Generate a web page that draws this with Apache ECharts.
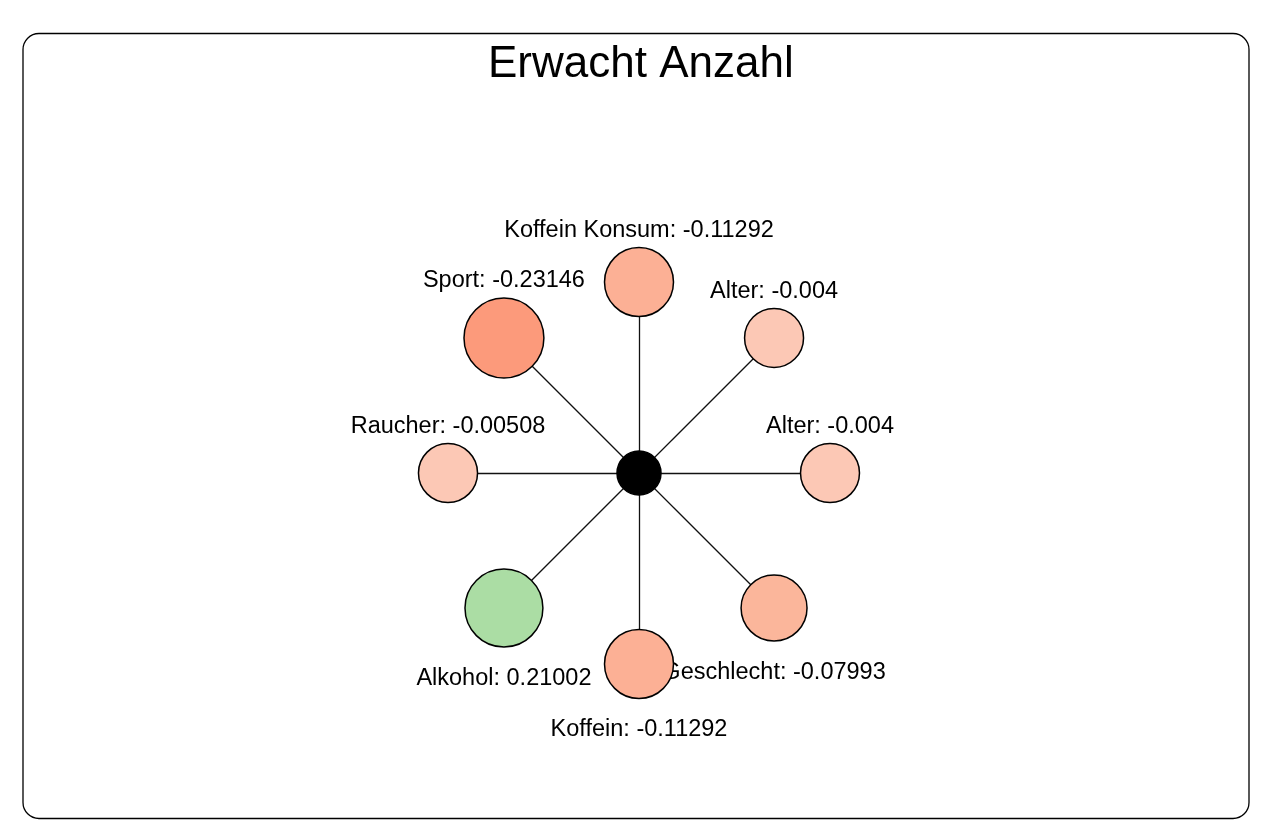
<!DOCTYPE html>
<html>
<head>
<meta charset="utf-8">
<script src="https://cdn.jsdelivr.net/npm/echarts@6/dist/echarts.min.js"></script>
<style>
html,body{margin:0;padding:0;background:#fff;}
#chart{width:1264px;height:833px;}
</style>
</head>
<body>
<div id="chart"></div>
<script>
// ---- data ----
const titleText = 'Erwacht Anzahl';
// satellites in clockwise order starting at the top
const names = ['Koffein Konsum', 'Alter', 'Alter', 'Geschlecht', 'Koffein', 'Alkohol', 'Raucher', 'Sport'];
const values = [-0.11292, -0.004, -0.004, -0.07993, -0.11292, 0.21002, -0.00508, -0.23146];
const labelSides = ['top', 'top', 'top', 'bottom', 'bottom', 'bottom', 'top', 'top'];
// ---- styles ----
const colors = ['#FCB095', '#FCC8B5', '#FCC8B5', '#FBB69B', '#FCB095', '#ABDDA4', '#FCC8B5', '#FC9A7B'];

const FONT = '"Liberation Sans", Arial, sans-serif';
const n = names.length;
function sizeOf(v) { return 2 * (29.3 + 46 * Math.abs(v)); }
function posOf(i) {
  const a = Math.PI / 2 - i * 2 * Math.PI / n;
  return [Math.cos(a), Math.sin(a)];
}

const nodes = [{
  name: 'center', value: [0, 0], symbolSize: 44,
  itemStyle: { color: '#000', borderColor: '#000', borderWidth: 1.5 }
}];
const links = [];
const labelPts = [];
for (let i = 0; i < n; i++) {
  const p = posOf(i);
  nodes.push({
    name: 'n' + i, value: p, symbolSize: sizeOf(values[i]),
    itemStyle: { color: colors[i], borderColor: '#000', borderWidth: 1.5 }
  });
  links.push({ source: 'center', target: 'n' + i });
  labelPts.push({
    value: p, symbolSize: sizeOf(values[i]),
    label: {
      show: true,
      position: labelSides[i],
      distance: labelSides[i] === 'top' ? 5 : 19,
      color: '#000000',
      fontSize: 23.5,
      fontFamily: FONT,
      formatter: names[i] + ': ' + values[i]
    }
  });
}

const chart = echarts.init(document.getElementById('chart'), null, { renderer: 'canvas' });
chart.setOption({
  animation: false,
  backgroundColor: '#fff',
  title: {
    text: titleText, left: 483, top: 38,
    textStyle: { fontFamily: FONT, fontSize: 44, fontWeight: 'normal', color: '#000' }
  },
  graphic: [{
    type: 'rect', z: -10, silent: true,
    shape: { x: 23, y: 33.5, width: 1226, height: 785, r: 16 },
    style: { fill: 'none', stroke: '#000', lineWidth: 1.3 }
  }],
  grid: { left: 257, width: 764, top: 186.5, height: 573 },
  xAxis: { type: 'value', min: -2, max: 2, show: false },
  yAxis: { type: 'value', min: -1.5, max: 1.5, show: false },
  series: [
    {
      type: 'scatter', z: 1,
      data: labelPts,
      itemStyle: { color: 'transparent', opacity: 1 },
      label: {
        show: true, color: '#000000', fontSize: 23.5, fontFamily: FONT
      },
      emphasis: { disabled: true },
      silent: true
    },
    {
      type: 'graph', coordinateSystem: 'cartesian2d', z: 3,
      layout: 'none',
      data: nodes, links: links,
      symbol: 'circle',
      label: { show: false },
      lineStyle: { color: '#111', width: 1.3, opacity: 1 },
      emphasis: { disabled: true },
      silent: true
    }
  ]
});
</script>
</body>
</html>
